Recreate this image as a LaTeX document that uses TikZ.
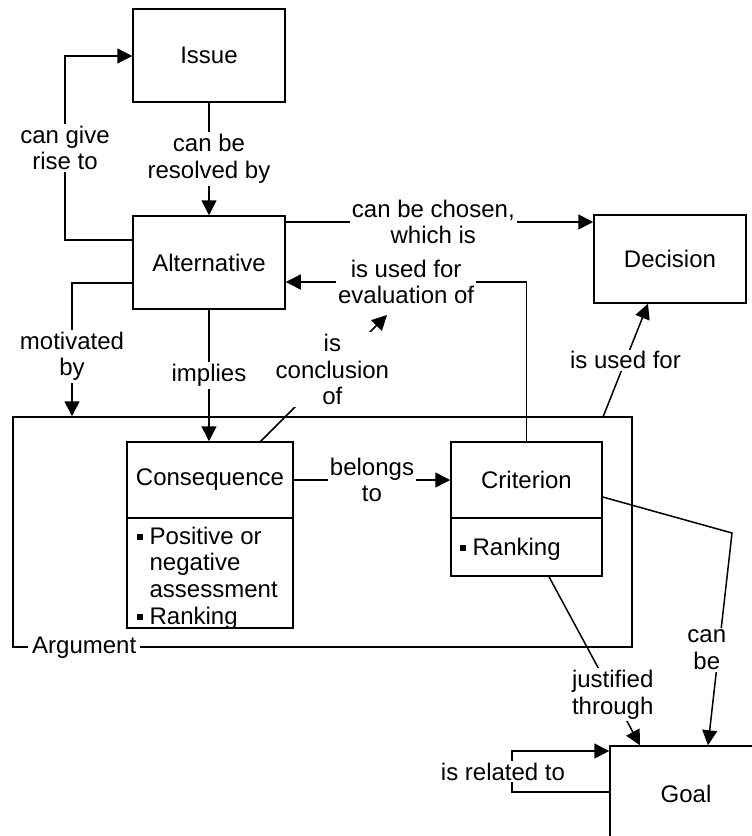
\documentclass[tikz,border=0pt]{standalone}
\usepackage{fontspec}
\setmainfont{Liberation Sans}
\usetikzlibrary{arrows.meta,calc}
% small square bullet with a fixed-width slot
\newcommand\sqbul{\makebox[6.5pt][l]{\rule[2.2pt]{3pt}{3pt}}}
\begin{document}
\begin{tikzpicture}[x=0.5pt,y=-0.5pt,
  every node/.style={font=\fontsize{12}{13.4}\selectfont},
  box/.style={draw,line width=0.75pt,minimum width=76pt,inner sep=0pt},
  conn/.style={line width=0.75pt},
  arr/.style={conn,-{Triangle[length=7.5pt,width=7.5pt]}},
  lbl/.style={fill=white,align=center,inner sep=1pt},
]
\useasboundingbox (0,0) rectangle (751,836);

% argument frame
\node[draw,line width=0.75pt,minimum width=309.5pt,minimum height=115pt,inner sep=0pt] (arg) at (322.5,532) {};
\node[fill=white,inner sep=2pt] (arglbl) at ($(arg.south west)+(72,0)$) {Argument};

% concept boxes
\node[box,minimum height=46.5pt] (issue) at (209,55.5) {Issue};
\node[box,minimum height=46.5pt] (alt) at (209,262.5) {Alternative};
\node[box,minimum height=44pt] (dec) at (670,259) {Decision};
\node[box,minimum width=83pt,minimum height=38pt] (conshead) at (210,480) {Consequence};
\node[box,minimum width=83pt,minimum height=55pt] (consbody) at (210,573) {};
\node[box,minimum width=75.5pt,minimum height=38pt] (crithead) at (526.5,480) {Criterion};
\node[box,minimum width=75.5pt,minimum height=29pt] (critbody) at (526.5,547) {};
\node[box,minimum height=48pt] (goal) at (686,794) {Goal};

% attribute lists
\node[anchor=north west,align=left,inner sep=0pt] (consitems) at ($(consbody.north west)+(10,9)$)
  {\sqbul Positive or\\\hspace*{6.5pt}negative\\\hspace*{6.5pt}assessment\\\sqbul Ranking};
\node[anchor=west,inner sep=0pt] (critems) at ($(critbody.west)+(9,2)$) {\sqbul Ranking};

% routing points
\coordinate (g1) at (65,240);
\coordinate (g2) at (65,56);
\coordinate (w1) at (433,222);
\coordinate (e1) at (526,282);
\coordinate (k1) at (260,442);
\coordinate (k2) at (387,315);
\coordinate (m1) at (72,283);
\coordinate (u1) at (603,417);
\coordinate (u2) at (648,303);
\coordinate (b1) at (732,533);
\coordinate (b2) at (708,746);
\coordinate (r1) at (512,792);
\coordinate (r2) at (512,751);

% connectors
\draw[arr] (alt.west |- g1) -- (g1) -- node[lbl]{can give\\rise to} (g2) -- (issue.west |- g2);
\draw[arr] (issue) -- node[lbl]{can be\\resolved by} (alt);
\draw[arr] (alt.east |- w1) -- node[lbl,pos=0.48]{can be chosen,\\which is} (dec.west |- w1);
\draw[arr] (crithead.north) -- (crithead.north |- e1) -- node[lbl]{is used for\\evaluation of} (alt.east |- e1);
\draw[arr] (k1) -- node[lbl,pos=0.57]{is\\conclusion\\of} (k2);
\draw[arr] (alt.west |- m1) -- (m1) -- node[lbl,pos=0.55]{motivated\\by} (m1 |- arg.north);
\draw[arr] (alt.south) -- node[lbl]{implies} (alt.south |- conshead.north);
\draw[arr] (conshead) -- node[lbl]{belongs\\to} (crithead);
\draw[arr] (u1) -- node[lbl]{is used for} (dec.south -| u2);
\draw[arr] ($(crithead.east)+(0,17)$) -- (b1) -- node[lbl,pos=0.55,xshift=-6pt]{can\\be} (goal.north -| b2);
\draw[arr] ($(critbody.south)+(22.5,0)$) -- node[lbl,pos=0.7]{justified\\through} ($(goal.north)+(-46,0)$);
\draw[arr] ($(goal.west)+(0,-2)$) -- (r1) -- node[lbl,xshift=-4.5pt]{is related to} (r2) -- (goal.west |- r2);
\end{tikzpicture}
\end{document}
